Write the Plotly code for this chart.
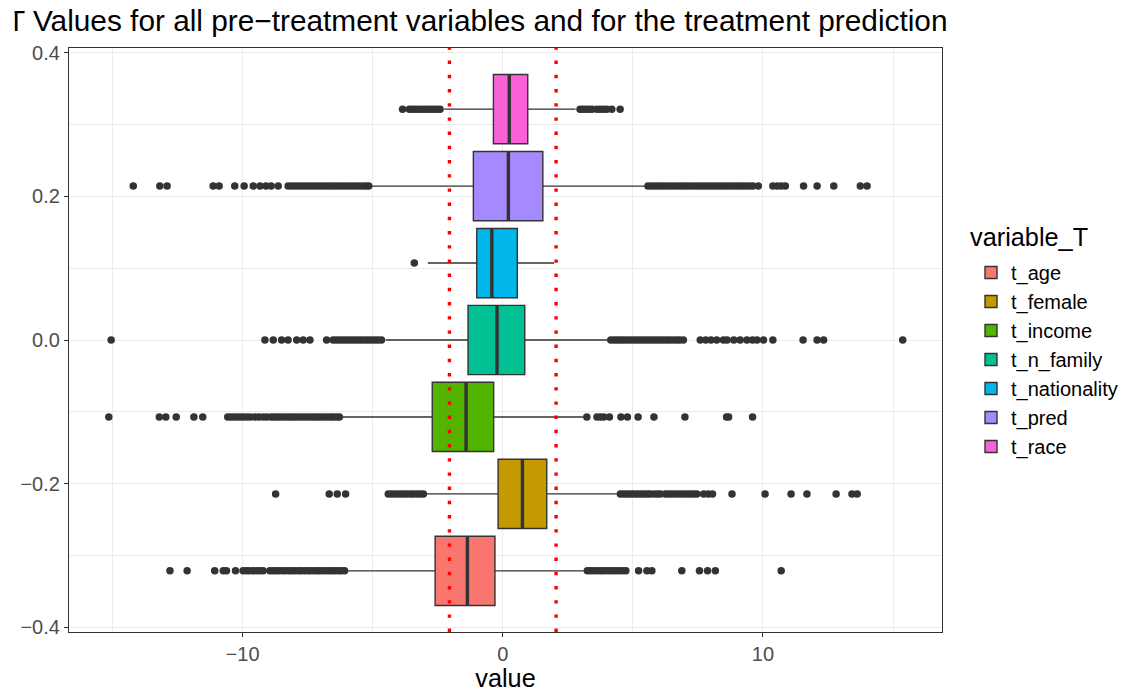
import numpy as np
import plotly.graph_objects as go

# ---- data -------------------------------------------------------------
variables = ["t_age", "t_female", "t_income", "t_n_family",
             "t_nationality", "t_pred", "t_race"]
colors = ["#F8766D", "#C49A00", "#53B400", "#00C094",
          "#00B6EB", "#A58AFF", "#FB61D7"]

q1 = [-2.60, -0.18, -2.71, -1.335, -1.00, -1.13, -0.36]
median = [-1.36, 0.755, -1.41, -0.22, -0.42, 0.215, 0.25]
q3 = [-0.30, 1.69, -0.35, 0.846, 0.56, 1.54, 0.96]
whisker_low = [-5.98, -2.95, -6.20, -4.50, -2.88, -5.05, -2.25]
whisker_high = [3.12, 4.40, 3.10, 4.02, 1.97, 5.45, 2.80]

out_age = [-12.79, -12.13, -11.07, -10.74, -10.62, -10.27, -9.98, -9.85, -9.74,
           -9.6, -9.46, -9.33, -9.21, -8.95, -8.83, -8.71, -8.6, -8.47, -8.35,
           -8.22, -8.12, -7.99, -7.86, -7.76, -7.63, -7.5, -7.4, -7.27, -7.14,
           -7.04, -6.91, -6.79, -6.67, -6.55, -6.44, -6.31, -6.2, -6.08,
           3.25, 3.37, 3.49, 3.61, 3.74, 3.85, 3.98, 4.11, 4.22, 4.35, 4.47,
           4.6, 4.73, 5.22, 5.54, 5.73, 6.88, 7.56, 7.87, 8.17, 10.7]
out_female = [-8.73, -6.67, -6.36, -6.04, -4.4, -4.28, -4.15, -4.03, -3.9,
              -3.78, -3.66, -3.53, -3.42, -3.29, -3.17, -3.05,
              4.52, 4.63, 4.75, 4.87, 4.98, 5.1, 5.21, 5.33, 5.45, 5.57, 5.67,
              5.82, 5.95, 6.05, 6.24, 6.36, 6.48, 6.6, 6.73, 6.85, 6.97, 7.1,
              7.22, 7.34, 7.46, 7.72, 7.9, 8.06, 8.81, 10.08, 11.08, 11.69,
              12.81, 13.42, 13.62]
out_income = [-15.14, -13.2, -12.95, -12.55, -11.87, -11.53, -10.57, -10.45,
              -10.33, -10.21, -10.08, -9.96, -9.83, -9.7, -9.53, -9.38, -9.22,
              -9.08, -8.92, -8.8, -8.68, -8.56, -8.44, -8.31, -8.19, -8.07,
              -7.95, -7.82, -7.7, -7.58, -7.46, -7.33, -7.21, -7.1, -6.97,
              -6.85, -6.73, -6.6, -6.49, -6.37, -6.28,
              3.23, 3.62, 3.75, 3.88, 4.1, 4.54, 4.79, 5.2, 5.81, 7.0, 8.6,
              8.68, 9.6]
out_n_family = [-15.05, -9.14, -8.82, -8.5, -8.25, -7.92, -7.67, -7.41,
                -6.77, -6.52, -6.4, -6.28, -6.16, -6.03, -5.9, -5.78, -5.66,
                -5.53, -5.41, -5.28, -5.16, -5.04, -4.91, -4.79, -4.66,
                4.15, 4.27, 4.39, 4.5, 4.62, 4.74, 4.86, 4.98, 5.1, 5.22, 5.34,
                5.46, 5.58, 5.7, 5.82, 5.94, 6.06, 6.18, 6.3, 6.42, 6.55, 6.68,
                6.8, 6.94, 7.59, 7.8, 8.0, 8.22, 8.48, 8.62, 8.88, 9.12, 9.38,
                9.6, 9.77, 10.02, 10.38, 11.54, 12.08, 12.33, 15.37]
out_nationality = [-3.4]
out_pred = [-14.2, -13.18, -12.9, -11.13, -10.9, -10.3, -9.94, -9.59, -9.33,
            -9.1, -8.9, -8.63, -8.25, -8.12, -7.99, -7.86, -7.73, -7.6, -7.47,
            -7.34, -7.21, -7.08, -6.95, -6.82, -6.69, -6.56, -6.43, -6.3,
            -6.17, -6.04, -5.91, -5.78, -5.65, -5.52, -5.39, -5.26, -5.15,
            5.58, 5.7, 5.83, 5.95, 6.08, 6.2, 6.33, 6.46, 6.58, 6.71, 6.84,
            6.96, 7.09, 7.21, 7.34, 7.47, 7.59, 7.72, 7.85, 7.97, 8.1, 8.22,
            8.35, 8.48, 8.6, 8.73, 8.86, 8.98, 9.11, 9.23, 9.36, 9.49, 9.61,
            9.82, 10.38, 10.55, 10.7, 10.86, 11.56, 12.08, 12.72, 13.74, 14.0]
out_race = [-3.85, -3.59, -3.48, -3.36, -3.24, -3.12, -3.0, -2.88, -2.76,
            -2.64, -2.52, -2.41, 2.97, 3.08, 3.2, 3.31, 3.43, 3.62, 3.74,
            3.86, 4.0, 4.19, 4.51]
outliers = [out_age, out_female, out_income, out_n_family,
            out_nationality, out_pred, out_race]

critical = 2.05

x_ticks = [-10, 0, 10]
x_ticktext = ["\u221210", "0", "10"]
y_ticks = [-0.4, -0.2, 0.0, 0.2, 0.4]
y_ticktext = ["\u22120.4", "\u22120.2", "0.0", "0.2", "0.4"]

title_text = ("T Values for all pre\u2212treatment variables and for the "
              "treatment prediction")
legend_title = "variable_T"

# ---- layout geometry ----------------------------------------------------
W, H = 1122, 692
L, R, T, B = 69, 942, 48, 632
FONT = "Liberation Sans, Arial, Helvetica, sans-serif"
INK = "#333333"
TICK_SIZE = 20
LABEL_SIZE = 25.3
TITLE_SIZE = 29.8


def px_x(p):
    return (p - L) / (R - L)


def px_y(p):
    return (B - p) / (B - T)


# dodged positions on the continuous y axis (7 groups across 0.75)
n = len(variables)
slot = 0.75 / n
box_w = slot * 0.9
positions = [(i - (n - 1) / 2) * slot for i in range(n)]

fig = go.Figure()

for i, name in enumerate(variables):
    pos = positions[i]
    fig.add_trace(go.Box(
        name=name, legendgroup=name, orientation="h",
        y=[pos], q1=[q1[i]], median=[median[i]], q3=[q3[i]],
        lowerfence=[whisker_low[i]], upperfence=[whisker_high[i]],
        width=box_w, whiskerwidth=0, boxpoints=False,
        fillcolor=colors[i], line=dict(color=INK, width=1.4),
        hoverinfo="skip",
    ))
    # thicker median bar
    fig.add_trace(go.Scatter(
        x=[median[i], median[i]], y=[pos - box_w / 2, pos + box_w / 2],
        mode="lines", line=dict(color=INK, width=3.4),
        showlegend=False, legendgroup=name, hoverinfo="skip",
    ))
    pts = outliers[i]
    fig.add_trace(go.Scatter(
        x=pts, y=np.full(len(pts), pos), mode="markers",
        marker=dict(color=INK, size=7.5, line=dict(width=0)),
        showlegend=False, legendgroup=name, hoverinfo="skip",
    ))

for v in (-critical, critical):
    fig.add_shape(type="line", xref="x", yref="paper", x0=v, x1=v,
                  y0=0, y1=1, layer="above",
                  line=dict(color="#FF0000", width=3.4,
                            dash="3.4px,10.8px"))

grid = "#EBEBEB"
fig.update_xaxes(
    range=[-16.67, 16.88], tickvals=x_ticks, ticktext=x_ticktext,
    showgrid=True, gridcolor=grid, gridwidth=1.2, zeroline=False,
    minor=dict(tickvals=[-15, -5, 5, 15], showgrid=True,
               gridcolor=grid, gridwidth=0.6, ticks=""),
    showline=True, mirror=True, linecolor=INK, linewidth=1.2,
    ticks="outside", ticklen=4, tickwidth=1.2, tickcolor=INK,
    tickfont=dict(size=TICK_SIZE, color="#4D4D4D", family=FONT),
    title=dict(text="value",
               font=dict(size=LABEL_SIZE, color="black", family=FONT),
               standoff=4),
    automargin=False,
)
fig.update_yaxes(
    range=[-0.4066, 0.4066], tickvals=y_ticks, ticktext=y_ticktext,
    showgrid=True, gridcolor=grid, gridwidth=1.2, zeroline=False,
    minor=dict(tickvals=[-0.3, -0.1, 0.1, 0.3], showgrid=True,
               gridcolor=grid, gridwidth=0.6, ticks=""),
    showline=True, mirror=True, linecolor=INK, linewidth=1.2,
    ticks="outside", ticklen=4, tickwidth=1.2, tickcolor=INK,
    tickfont=dict(size=TICK_SIZE, color="#4D4D4D", family=FONT),
    automargin=False,
)

fig.update_layout(
    width=W, height=H,
    margin=dict(l=L, r=W - R, t=T, b=H - B, autoexpand=False),
    paper_bgcolor="white", plot_bgcolor="white",
    font=dict(family=FONT, color="black"),
    showlegend=True,
    legend=dict(
        x=px_x(971), y=px_y(253), xanchor="left", yanchor="top",
        traceorder="grouped", tracegroupgap=0,
        font=dict(size=TICK_SIZE, family=FONT, color="black"),
        bgcolor="rgba(0,0,0,0)",
    ),
    annotations=[
        dict(text=title_text, xref="paper", yref="paper",
             x=px_x(5), y=px_y(21), xanchor="left", yanchor="middle",
             showarrow=False, font=dict(size=TITLE_SIZE, family=FONT,
                                        color="black")),
        # left edge of the title is cut off by the page border
        dict(text=" ", xref="paper", yref="paper", x=px_x(0), y=px_y(0),
             xanchor="left", yanchor="top", width=13, height=44,
             borderpad=0, bgcolor="white", showarrow=False),
        dict(text=legend_title, xref="paper", yref="paper",
             x=px_x(968), y=px_y(237), xanchor="left", yanchor="middle",
             showarrow=False, font=dict(size=LABEL_SIZE, family=FONT,
                                        color="black")),
    ],
)

fig.write_html("out.html")
